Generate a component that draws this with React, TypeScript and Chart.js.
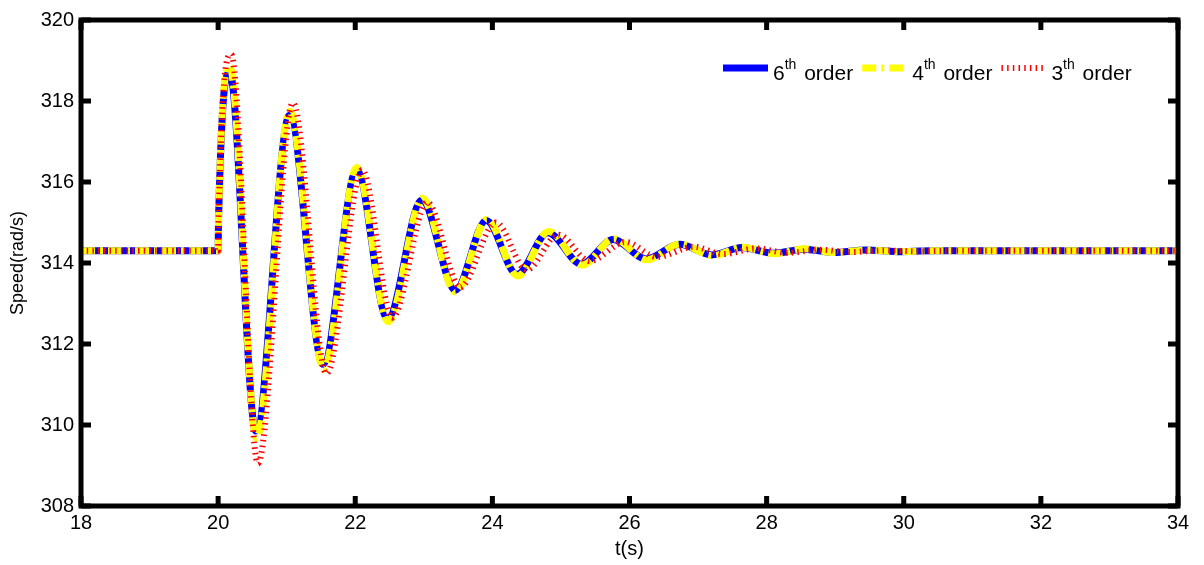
import React, { useEffect, useRef } from "react";
import { Chart, registerables } from "chart.js";

Chart.register(...registerables);

// time (s) of the 6th order model's turning points and its speed (rad/s)
const t6 = [18, 20, 20.005, 20.17, 20.55, 21.04, 21.53, 22.02, 22.47, 22.97, 23.46, 23.91, 24.36, 24.81, 25.3, 25.76, 26.24, 26.73, 27.2, 27.64, 28.1, 28.55, 28.98, 29.45, 29.9, 30.4, 34];
const speed6 = [314.3, 314.3, 315.0, 318.7, 309.85, 317.65, 311.5, 316.3, 312.62, 315.55, 313.33, 315.05, 313.72, 314.75, 313.97, 314.58, 314.1, 314.46, 314.2, 314.38, 314.24, 314.34, 314.26, 314.32, 314.28, 314.3, 314.3];

// 4th order model
const t4 = [18, 20, 20.005, 20.17, 20.56, 21.04, 21.54, 22.02, 22.48, 22.98, 23.46, 23.92, 24.37, 24.82, 25.31, 25.77, 26.25, 26.74, 27.21, 27.65, 28.11, 28.56, 28.99, 29.46, 29.91, 30.4, 34];
const speed4 = [314.3, 314.3, 315.0, 318.85, 309.67, 317.75, 311.38, 316.36, 312.55, 315.6, 313.28, 315.08, 313.68, 314.78, 313.95, 314.6, 314.08, 314.47, 314.18, 314.39, 314.23, 314.35, 314.26, 314.32, 314.28, 314.3, 314.3];

// 3rd order model
const t3 = [18, 20, 20.005, 20.19, 20.58, 21.09, 21.58, 22.1, 22.54, 23.05, 23.53, 24.05, 24.5, 24.96, 25.42, 25.94, 26.4, 26.94, 27.36, 27.85, 28.3, 28.78, 29.2, 29.7, 30.2, 30.7, 34];
const speed3 = [314.3, 314.3, 315.0, 319.15, 309.05, 317.95, 311.27, 316.3, 312.65, 315.5, 313.4, 315.0, 313.83, 314.7, 314.05, 314.52, 314.15, 314.4, 314.22, 314.36, 314.25, 314.33, 314.27, 314.31, 314.29, 314.3, 314.3];

const seriesLabels = ["6th order", "4th order", "3th order"];
const xTickValues = [18, 20, 22, 24, 26, 28, 30, 32, 34];
const yTickValues = [308, 310, 312, 314, 316, 318, 320];
const xTitle = "t(s)";
const yTitle = "Speed(rad/s)";

const FONT = "'Liberation Sans', Arial, Helvetica, sans-serif";

const framePlugin = {
  id: "matlabFrame",
  afterDraw(chart: any) {
    const { ctx, chartArea: a, scales } = chart;
    ctx.save();
    ctx.strokeStyle = "#000";
    ctx.lineWidth = 5;
    ctx.lineCap = "butt";
    ctx.setLineDash([]);
    ctx.strokeRect(a.left, a.top, a.right - a.left, a.bottom - a.top);
    const L = 10;
    ctx.beginPath();
    for (const v of xTickValues) {
      const px = scales.x.getPixelForValue(v);
      ctx.moveTo(px, a.bottom);
      ctx.lineTo(px, a.bottom - L);
      ctx.moveTo(px, a.top);
      ctx.lineTo(px, a.top + L);
    }
    for (const v of yTickValues) {
      const py = scales.y.getPixelForValue(v);
      ctx.moveTo(a.left, py);
      ctx.lineTo(a.left + L, py);
      ctx.moveTo(a.right, py);
      ctx.lineTo(a.right - L, py);
    }
    ctx.stroke();
    ctx.restore();
  },
};

const legendPlugin = {
  id: "superscriptLegend",
  afterDraw(chart: any) {
    const { ctx, chartArea } = chart;
    let x = chartArea.right - 455;
    const y = 68;
    chart.data.datasets.forEach((ds: any) => {
      ctx.save();
      ctx.strokeStyle = ds.borderColor;
      ctx.lineWidth = ds.borderWidth;
      ctx.lineCap = "butt";
      ctx.setLineDash(ds.borderDash || []);
      ctx.beginPath();
      ctx.moveTo(x, y);
      ctx.lineTo(x + 45, y);
      ctx.stroke();
      ctx.restore();
      x += 50;
      const m = /^(\d+)(th)(.*)$/.exec(ds.label) || [ds.label, ds.label, "", ""];
      ctx.save();
      ctx.fillStyle = "#000";
      ctx.textBaseline = "alphabetic";
      ctx.textAlign = "left";
      ctx.font = `21px ${FONT}`;
      ctx.fillText(m[1], x, y + 12);
      x += ctx.measureText(m[1]).width;
      ctx.font = `14px ${FONT}`;
      ctx.fillText(m[2], x, y + 1);
      x += ctx.measureText(m[2]).width + 2;
      ctx.font = `21px ${FONT}`;
      ctx.fillText(m[3], x, y + 12);
      x += ctx.measureText(m[3]).width + 9;
      ctx.restore();
    });
  },
};

function toPoints(t: number[], v: number[]) {
  return t.map((x, i) => ({ x, y: v[i] }));
}

export default function App() {
  const canvasRef = useRef<HTMLCanvasElement | null>(null);

  useEffect(() => {
    const canvas = canvasRef.current;
    if (!canvas) return;
    const tickFont = { family: FONT, size: 20 };
    const chart = new Chart(canvas, {
      type: "line",
      data: {
        datasets: [
          {
            label: seriesLabels[0],
            data: toPoints(t6, speed6),
            borderColor: "#0000ff",
            borderWidth: 7,
            borderDash: [],
            order: 3,
          },
          {
            label: seriesLabels[1],
            data: toPoints(t4, speed4),
            borderColor: "#ffff00",
            borderWidth: 7,
            borderDash: [14, 5, 3, 5],
            order: 2,
          },
          {
            label: seriesLabels[2],
            data: toPoints(t3, speed3),
            borderColor: "#ff0000",
            borderWidth: 6,
            borderDash: [1.5, 4.2],
            order: 1,
          },
        ] as any,
      },
      options: {
        responsive: false,
        animation: false,
        events: [],
        layout: { padding: { top: 20, right: 26, left: 0, bottom: 0 } },
        elements: {
          point: { radius: 0 },
          line: { cubicInterpolationMode: "monotone", borderCapStyle: "butt", borderJoinStyle: "round" },
        },
        plugins: {
          legend: { display: false },
          tooltip: { enabled: false },
        },
        scales: {
          x: {
            type: "linear",
            min: 18,
            max: 34,
            afterFit: (s: any) => {
              s.height = 59;
            },
            grid: { display: false, drawTicks: false },
            border: { display: false },
            ticks: {
              stepSize: 2,
              color: "#000",
              font: tickFont,
              padding: 5,
              maxRotation: 0,
              autoSkip: false,
            },
            title: {
              display: true,
              text: xTitle,
              color: "#000",
              font: tickFont,
              padding: { top: 0, bottom: 4 },
            },
          },
          y: {
            type: "linear",
            min: 308,
            max: 320,
            afterFit: (s: any) => {
              s.width = 81;
            },
            grid: { display: false, drawTicks: false },
            border: { display: false },
            ticks: {
              stepSize: 2,
              color: "#000",
              font: tickFont,
              padding: 7,
              autoSkip: false,
            },
            title: {
              display: true,
              text: yTitle,
              color: "#000",
              font: { family: FONT, size: 18 },
              padding: { top: 7, bottom: 0 },
            },
          },
        },
      } as any,
      plugins: [framePlugin, legendPlugin],
    });
    return () => chart.destroy();
  }, []);

  return (
    <div style={{ position: "absolute", left: 0, top: 0, width: 1204, height: 565, background: "#fff" }}>
      <canvas ref={canvasRef} width={1204} height={565} style={{ display: "block" }} />
    </div>
  );
}
